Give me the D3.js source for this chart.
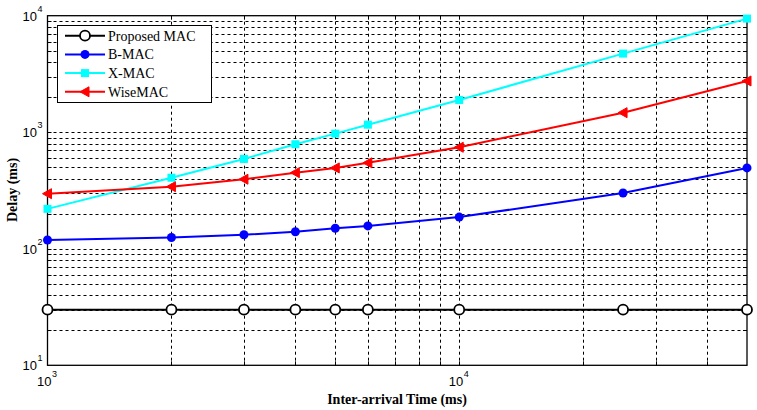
<!DOCTYPE html>
<html><head><meta charset="utf-8">
<script src="https://cdn.jsdelivr.net/npm/d3@7"></script>
<style>body{margin:0;background:#fff}svg{display:block}
.serif{font-family:"Liberation Serif","Times New Roman",serif}
.sans{font-family:"Liberation Sans",Arial,sans-serif}</style>
</head><body><svg id="c" width="757" height="410"></svg>
<script>
const xValues = [1000, 2000, 3000, 4000, 5000, 6000, 10000, 25000, 50000];
const proposedMAC = [30, 30, 30, 30, 30, 30, 30, 30, 30];
const bMAC = [119, 125, 132, 140, 150, 157, 187, 301, 494];
const xMAC = [220, 407, 590, 789, 973, 1161, 1892, 4730, 9440];
const wiseMAC = [297, 341, 395, 450, 494, 546, 743, 1472, 2754];
const seriesNames = ["Proposed MAC", "B-MAC", "X-MAC", "WiseMAC"];
const seriesColors = ["#000000", "#0000ff", "#00ffff", "#ff0000"];
const seriesMarkers = ["circle", "dot", "square", "triangle"];
const xTickExps = [3, 4];
const yTickExps = [1, 2, 3, 4];

const svg = d3.select("#c");
const L = 47.5, R = 747, T = 15.7, B = 365.3;
const x = d3.scaleLog().domain([1000, 50000]).range([L, R]);
const y = d3.scaleLog().domain([10, 10000]).range([B, T]);

const xGrid = [], yGrid = [];
for (let d = 1000; d < 50000; d *= 10) for (let k = 1; k < 10; k++) { const v = d * k; if (v > 1000 && v < 50000) xGrid.push(v); }
for (let d = 10; d < 10000; d *= 10) for (let k = 1; k < 10; k++) { const v = d * k; if (v > 10 && v < 10000) yGrid.push(v); }

const g = svg.append("g");
g.selectAll(".vg").data(xGrid).enter().append("line")
  .attr("x1", d => Math.round(x(d)) + 0.5).attr("x2", d => Math.round(x(d)) + 0.5)
  .attr("y1", T).attr("y2", B).attr("stroke", "#000").attr("stroke-width", 1).attr("stroke-dasharray", "3,3");
g.selectAll(".hg").data(yGrid).enter().append("line")
  .attr("y1", d => Math.round(y(d)) + 0.5).attr("y2", d => Math.round(y(d)) + 0.5)
  .attr("x1", L).attr("x2", R).attr("stroke", "#000").attr("stroke-width", 1).attr("stroke-dasharray", "3,3");

g.selectAll(".xt").data(xGrid).enter().append("line")
  .attr("x1", d => Math.round(x(d)) + 0.5).attr("x2", d => Math.round(x(d)) + 0.5)
  .attr("y1", B).attr("y2", B - 4).attr("stroke", "#000");
g.selectAll(".xt2").data(xGrid).enter().append("line")
  .attr("x1", d => Math.round(x(d)) + 0.5).attr("x2", d => Math.round(x(d)) + 0.5)
  .attr("y1", T).attr("y2", T + 4).attr("stroke", "#000");
g.selectAll(".yt").data(yGrid).enter().append("line")
  .attr("y1", d => Math.round(y(d)) + 0.5).attr("y2", d => Math.round(y(d)) + 0.5)
  .attr("x1", L).attr("x2", L + 4).attr("stroke", "#000");
g.selectAll(".yt2").data(yGrid).enter().append("line")
  .attr("y1", d => Math.round(y(d)) + 0.5).attr("y2", d => Math.round(y(d)) + 0.5)
  .attr("x1", R).attr("x2", R - 4).attr("stroke", "#000");

g.append("rect").attr("x", L).attr("y", T).attr("width", R - L).attr("height", B - T)
  .attr("fill", "none").attr("stroke", "#000").attr("stroke-width", 1.3);

yTickExps.forEach(e => {
  svg.append("text").attr("class", "sans").attr("x", 37).attr("y", y(Math.pow(10, e)) + 5)
    .attr("text-anchor", "end").attr("font-size", 13).attr("fill", "#000").text("10");
  svg.append("text").attr("class", "sans").attr("x", 37.5).attr("y", y(Math.pow(10, e)) - 4)
    .attr("font-size", 9).text(e);
});
xTickExps.forEach(e => {
  const xx = x(Math.pow(10, e));
  svg.append("text").attr("class", "sans").attr("x", xx + 4).attr("y", 386).attr("text-anchor", "end")
    .attr("font-size", 13).text("10");
  svg.append("text").attr("class", "sans").attr("x", xx + 4.5).attr("y", 377)
    .attr("font-size", 9).text(e);
});

svg.append("text").attr("class", "serif").attr("x", 397).attr("y", 404).attr("text-anchor", "middle")
  .attr("font-weight", "bold").attr("font-size", 14).text("Inter-arrival Time (ms)");
svg.append("text").attr("class", "serif").attr("transform", "translate(17,190) rotate(-90)").attr("text-anchor", "middle")
  .attr("font-weight", "bold").attr("font-size", 14).text("Delay (ms)");

const allSeries = [proposedMAC, bMAC, xMAC, wiseMAC];
const line = d3.line().x(d => x(d[0])).y(d => y(d[1]));
function marker(sel, type, color) {
  if (type === "circle") sel.append("circle").attr("r", 5).attr("fill", "#fff").attr("stroke", color).attr("stroke-width", 1.8);
  else if (type === "dot") sel.append("circle").attr("r", 4.5).attr("fill", color);
  else if (type === "square") sel.append("rect").attr("x", -4).attr("y", -4).attr("width", 8).attr("height", 8).attr("fill", color);
  else if (type === "triangle") sel.append("path").attr("d", "M-5,0L4,-5L4,5Z").attr("fill", color).attr("stroke", color).attr("stroke-width", 1);
}
allSeries.forEach((vals, i) => {
  const pts = xValues.map((xv, j) => [xv, vals[j]]);
  svg.append("path").datum(pts).attr("d", line).attr("fill", "none")
    .attr("stroke", seriesColors[i]).attr("stroke-width", 2);
  pts.forEach(p => {
    const m = svg.append("g").attr("transform", `translate(${x(p[0])},${y(p[1])})`);
    marker(m, seriesMarkers[i], seriesColors[i]);
  });
});

const lg = svg.append("g");
lg.append("rect").attr("x", 57.5).attr("y", 25.5).attr("width", 154).attr("height", 77)
  .attr("fill", "#fff").attr("stroke", "#000").attr("stroke-width", 1);
seriesNames.forEach((n, i) => {
  const yy = 35.7 + i * 18.7;
  lg.append("line").attr("x1", 65).attr("x2", 105).attr("y1", yy).attr("y2", yy)
    .attr("stroke", seriesColors[i]).attr("stroke-width", 2);
  const m = lg.append("g").attr("transform", `translate(85,${yy})`);
  marker(m, seriesMarkers[i], seriesColors[i]);
  lg.append("text").attr("class", "serif").attr("x", 108).attr("y", yy + 5).attr("font-size", 14).text(n);
});
</script></body></html>
